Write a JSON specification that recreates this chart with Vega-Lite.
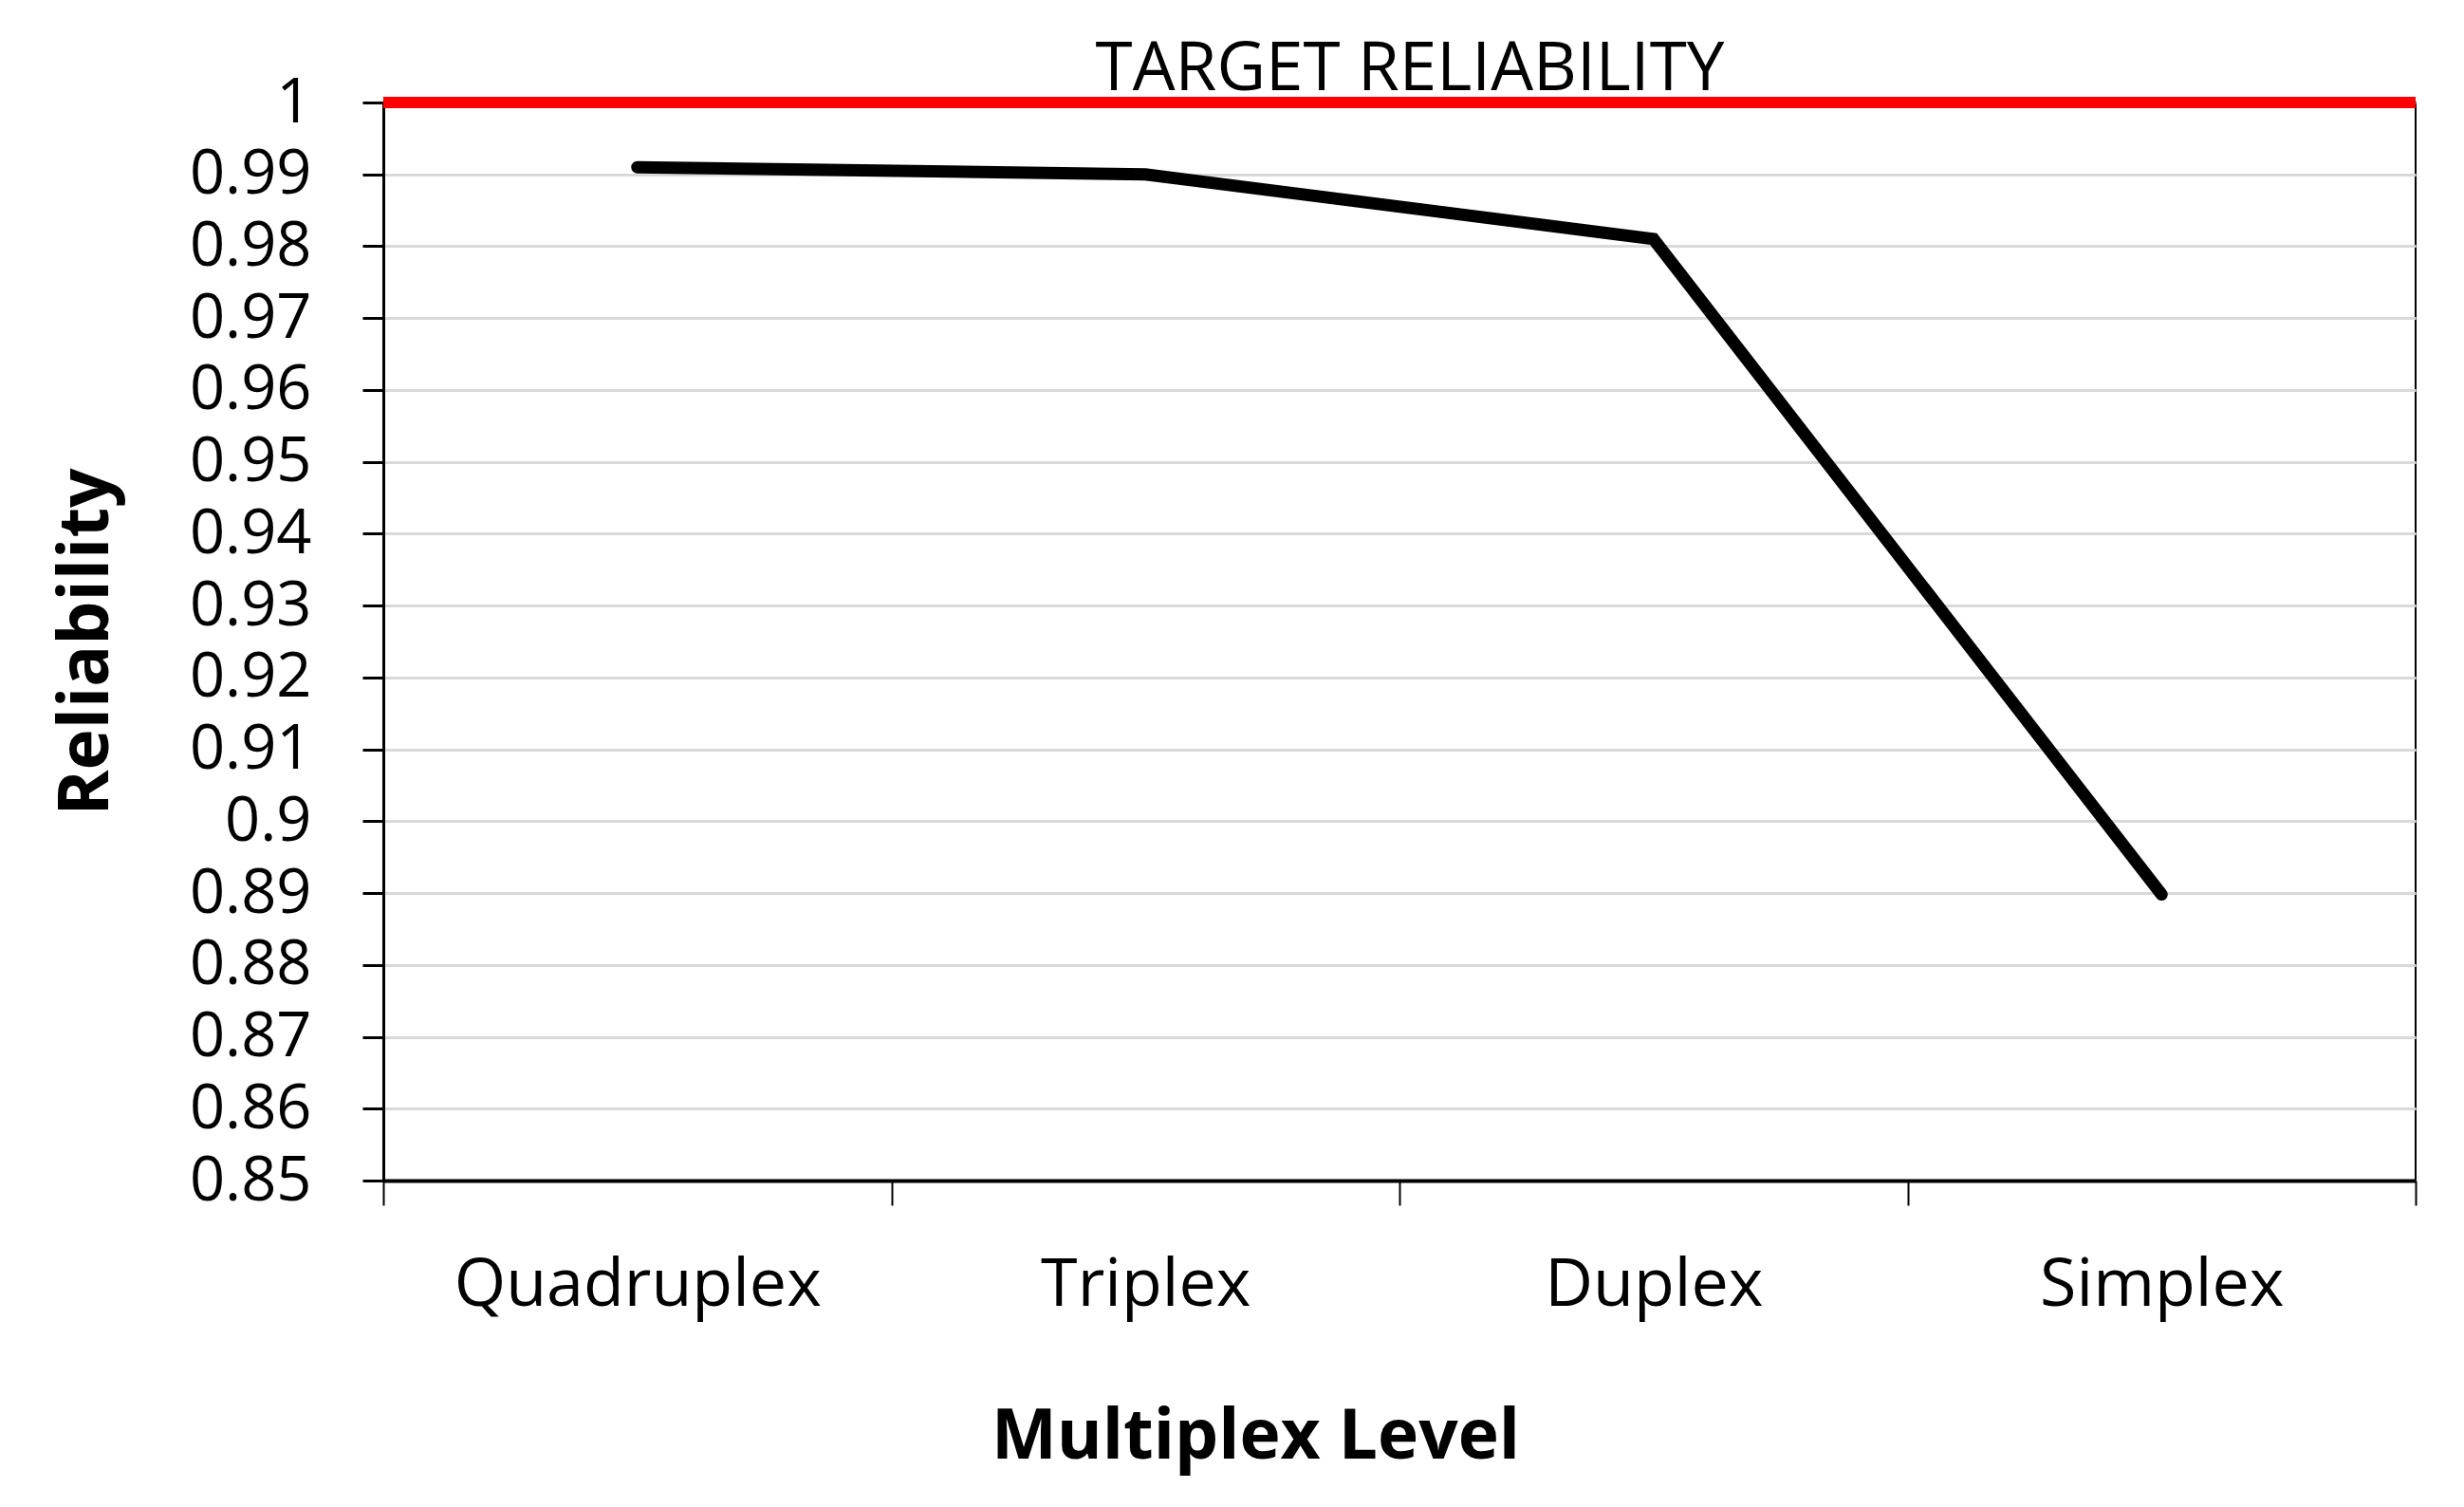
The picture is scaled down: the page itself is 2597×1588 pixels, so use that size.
{
  "$schema": "https://vega.github.io/schema/vega-lite/v6.json",
  "width": 2142,
  "height": 1136,
  "autosize": {"type": "none"},
  "padding": {"left": 404, "top": 108, "right": 51, "bottom": 344},
  "background": "white",
  "config": {
    "font": "Open Sans",
    "view": {"stroke": "black", "strokeWidth": 2}
  },
  "layer": [
    {
      "data": {"values": [
        {"level": "Quadruplex", "reliability": 0.991},
        {"level": "Triplex", "reliability": 0.990},
        {"level": "Duplex", "reliability": 0.981},
        {"level": "Simplex", "reliability": 0.8898}
      ]},
      "mark": {"type": "line", "color": "black", "strokeWidth": 13, "strokeCap": "round"},
      "encoding": {
        "x": {
          "field": "level", "type": "nominal", "sort": null,
          "scale": {"type": "band", "paddingInner": 0, "paddingOuter": 0},
          "axis": {
            "title": "Multiplex Level", "titleFontSize": 73, "titleFontWeight": "bold", "titleColor": "black",
            "titleX": 919, "titlePadding": 89,
            "labelAngle": 0, "labelFontSize": 70, "labelColor": "black", "labelPadding": 50, "labelLimit": 0,
            "tickBand": "extent", "tickSize": 26, "tickColor": "black", "tickWidth": 2,
            "domainColor": "black", "domainWidth": 4, "grid": false
          }
        },
        "y": {
          "field": "reliability", "type": "quantitative",
          "scale": {"domain": [0.85, 1], "zero": false, "nice": false},
          "axis": {
            "title": "Reliability", "titleFontSize": 73, "titleFontWeight": "bold", "titleColor": "black", "titlePadding": 76,
            "values": [0.85, 0.86, 0.87, 0.88, 0.89, 0.9, 0.91, 0.92, 0.93, 0.94, 0.95, 0.96, 0.97, 0.98, 0.99, 1],
            "format": ".2~f",
            "labelFontSize": 65, "labelColor": "black", "labelPadding": 54, "labelOverlap": false,
            "tickSize": 22, "tickColor": "black", "tickWidth": 3,
            "domainColor": "black", "domainWidth": 3,
            "grid": true, "gridColor": "#d9d9d9", "gridWidth": 3
          }
        }
      }
    },
    {
      "data": {"values": [{"target": 1}]},
      "mark": {"type": "rule", "color": "#ff0000", "strokeWidth": 12},
      "encoding": {"y": {"field": "target", "type": "quantitative"}}
    },
    {
      "data": {"values": [{"label": "TARGET RELIABILITY", "target": 1}]},
      "mark": {"type": "text", "fontSize": 71, "color": "black", "baseline": "bottom", "align": "center", "dx": 11, "dy": 2},
      "encoding": {
        "y": {"field": "target", "type": "quantitative"},
        "text": {"field": "label"}
      }
    }
  ]
}
